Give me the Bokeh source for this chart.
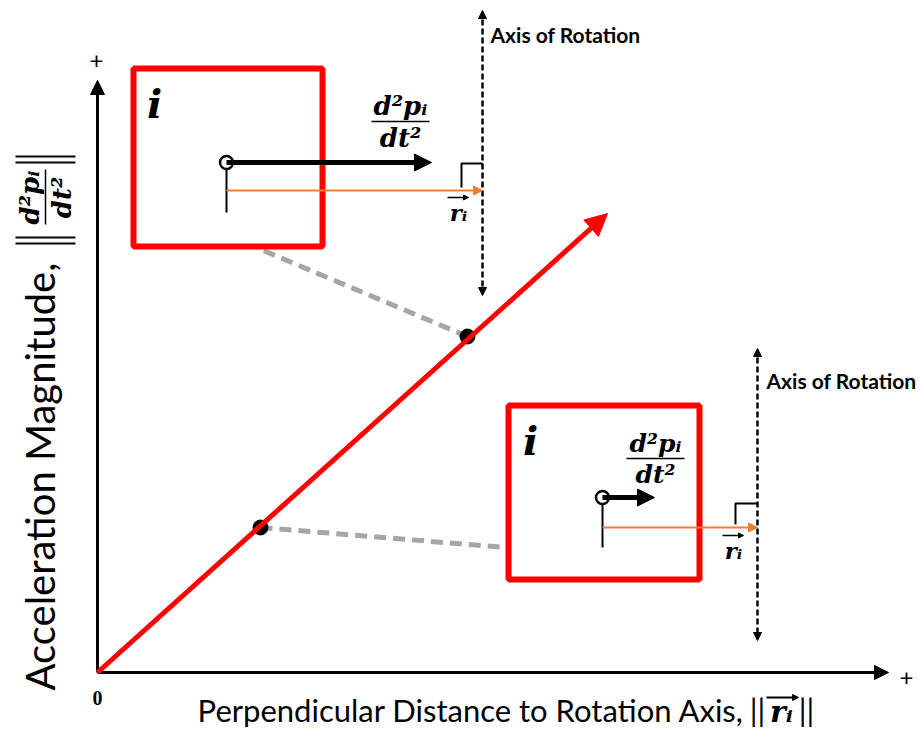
import math
from bokeh.plotting import figure
from bokeh.models import Range1d, Arrow, NormalHead, Label
from bokeh.embed import file_html
from bokeh.resources import INLINE

# ---------------- data (diagram coordinates, image-pixel space) ----------------
origin = [97, 672]
x_axis_tip = [888, 672]
y_axis_tip = [97, 80]

trend_x = [97, 607]
trend_y = [672, 213]

point_x = [260, 467]
point_y = [527, 336]

link_xs = [[260, 505], [467, 258]]
link_ys = [[527, 547], [336, 248]]

box_left = [133, 508]
box_right = [322, 699]
box_top = [68, 405]
box_bottom = [246, 579]

com_x = [226, 602]
com_y = [162, 497]
accel_tip_x = [431, 654]
stem_bottom = [212, 547]

r_y = [190, 527]
axis_x = [482, 757]
axis_top = [10, 348]
axis_bottom = [295, 640]
corner_x = [461, 735]
corner_top = [163, 503]

axis_text_x = [490, 766]
axis_text_y = [34, 380]
axis_text = "Axis of Rotation"

i_x = [154, 530]
i_y = [103, 440]

frac_x = [400, 655]
frac_line_y = [121, 458]
frac_half = [29, 29]
frac_size = ["26px", "25px"]

rlab_x = [458, 733]
rlab_y = [212, 550]

num_text = "d²pᵢ"
den_text = "dt²"
r_text = "rᵢ"

x_label_main = "Perpendicular Distance to Rotation Axis,"
y_label_main = "Acceleration Magnitude,"

SANS = "Lato"
MATH = "DejaVu Serif"
RED = "#ff0000"
ORANGE = "#ed7d31"
GRAY = "#a6a6a6"
INK = "black"

p = figure(width=921, height=730, x_range=Range1d(0, 921), y_range=Range1d(730, 0),
           output_backend="svg", toolbar_location=None, min_border=0)
p.axis.visible = False
p.grid.visible = False
p.outline_line_color = None


def label(**kw):
    kw.setdefault("text_color", INK)
    p.add_layout(Label(**kw))


# axes
p.add_layout(Arrow(x_start=origin[0], y_start=origin[1], x_end=x_axis_tip[0], y_end=x_axis_tip[1],
                   line_width=3, line_color=INK,
                   end=NormalHead(size=14, fill_color=INK, line_color=INK)))
p.add_layout(Arrow(x_start=origin[0], y_start=origin[1], x_end=y_axis_tip[0], y_end=y_axis_tip[1],
                   line_width=3, line_color=INK,
                   end=NormalHead(size=14, fill_color=INK, line_color=INK)))

label(x=96, y=60, text="+", text_font=SANS, text_font_size="24px",
      text_align="center", text_baseline="middle")
label(x=906, y=677, text="+", text_font=SANS, text_font_size="24px",
      text_align="center", text_baseline="middle")
label(x=origin[0], y=origin[1] + 25, text="0", text_font="Liberation Serif",
      text_font_style="bold", text_font_size="20px", text_align="center", text_baseline="middle")

# gray dashed links
p.multi_line(link_xs, link_ys, line_color=GRAY, line_width=5, line_dash="12 7")

# red trend arrow
p.add_layout(Arrow(x_start=trend_x[0], y_start=trend_y[0], x_end=trend_x[1], y_end=trend_y[1],
                   line_width=5, line_color=RED,
                   end=NormalHead(size=22, fill_color=RED, line_color=RED)))
p.scatter(point_x, point_y, size=15, color=INK)

# boxes
p.quad(left=box_left, right=box_right, top=box_top, bottom=box_bottom,
       fill_color=None, line_color=RED, line_width=6)

for k in range(2):
    # rotation axis (dashed, double headed)
    p.add_layout(Arrow(x_start=axis_x[k], y_start=axis_top[k], x_end=axis_x[k], y_end=axis_bottom[k],
                       line_width=2.5, line_color=INK, line_dash="6 3",
                       start=NormalHead(size=8, fill_color=INK, line_color=INK),
                       end=NormalHead(size=8, fill_color=INK, line_color=INK)))
    label(x=axis_text_x[k], y=axis_text_y[k], text=axis_text, text_font=SANS,
          text_font_style="bold", text_font_size="21px", text_baseline="middle")
    # right-angle mark
    p.line([corner_x[k], corner_x[k], axis_x[k]], [r_y[k] - 3, corner_top[k], corner_top[k]],
           line_color=INK, line_width=2)
    # stem
    p.line([com_x[k], com_x[k]], [com_y[k], stem_bottom[k]], line_color=INK, line_width=2)
    # r vector (orange)
    p.add_layout(Arrow(x_start=com_x[k], y_start=r_y[k], x_end=axis_x[k], y_end=r_y[k],
                       line_width=2.2, line_color=ORANGE,
                       end=NormalHead(size=9, fill_color=ORANGE, line_color=ORANGE)))
    # acceleration (black thick)
    p.add_layout(Arrow(x_start=com_x[k], y_start=com_y[k], x_end=accel_tip_x[k], y_end=com_y[k],
                       line_width=5, line_color=INK,
                       end=NormalHead(size=17, fill_color=INK, line_color=INK)))
    p.scatter([com_x[k]], [com_y[k]], size=13, marker="circle", fill_color="white",
              line_color=INK, line_width=2.5)
    # 'i'
    label(x=i_x[k], y=i_y[k], text="i", text_font=MATH, text_font_style="bold italic",
          text_font_size="40px", text_align="center", text_baseline="middle")
    # fraction
    label(x=frac_x[k], y=frac_line_y[k] - 1, text=num_text, text_font=MATH,
          text_font_style="bold italic", text_font_size=frac_size[k],
          text_align="center", text_baseline="bottom")
    p.line([frac_x[k] - frac_half[k], frac_x[k] + frac_half[k]], [frac_line_y[k], frac_line_y[k]],
           line_color=INK, line_width=1.5)
    label(x=frac_x[k], y=frac_line_y[k] + 1, text=den_text, text_font=MATH,
          text_font_style="bold italic", text_font_size=frac_size[k],
          text_align="center", text_baseline="top")
    # r_i label with vector arrow
    label(x=rlab_x[k], y=rlab_y[k], text=r_text, text_font=MATH,
          text_font_style="bold italic", text_font_size="23px",
          text_align="center", text_baseline="middle")
    p.add_layout(Arrow(x_start=rlab_x[k] - 11, y_start=rlab_y[k] - 15, x_end=rlab_x[k] + 10, y_end=rlab_y[k] - 15,
                       line_width=1.3, line_color=INK,
                       end=NormalHead(size=5, fill_color=INK, line_color=INK)))

# x label
label(x=744, y=709, text=x_label_main, text_font=SANS, text_font_size="31px",
      text_align="right", text_baseline="middle")
label(x=757, y=709, text="||", text_font=SANS, text_font_size="31px",
      text_align="center", text_baseline="middle")
label(x=781, y=711, text=r_text, text_font=MATH, text_font_style="bold italic",
      text_font_size="30px", text_align="center", text_baseline="middle")
label(x=806, y=709, text="||", text_font=SANS, text_font_size="31px",
      text_align="center", text_baseline="middle")
p.add_layout(Arrow(x_start=766, y_start=697, x_end=798, y_end=697, line_width=1.8, line_color=INK,
                   end=NormalHead(size=6, fill_color=INK, line_color=INK)))

# y label (rotated)
label(x=39, y=690, text=y_label_main, text_font=SANS, text_font_size="40px",
      angle=math.pi / 2, text_align="left", text_baseline="middle")
for yy in (156, 162, 237, 243):
    p.line([15, 75], [yy, yy], line_color=INK, line_width=2)
label(x=44, y=197, text=num_text, text_font=MATH, text_font_style="bold italic",
      text_font_size="26px", angle=math.pi / 2, text_align="center", text_baseline="bottom")
p.line([45, 45], [224, 169], line_color=INK, line_width=1.5)
label(x=46, y=197, text=den_text, text_font=MATH, text_font_style="bold italic",
      text_font_size="26px", angle=math.pi / 2, text_align="center", text_baseline="top")

open("out.html", "w").write(file_html(p, INLINE))
